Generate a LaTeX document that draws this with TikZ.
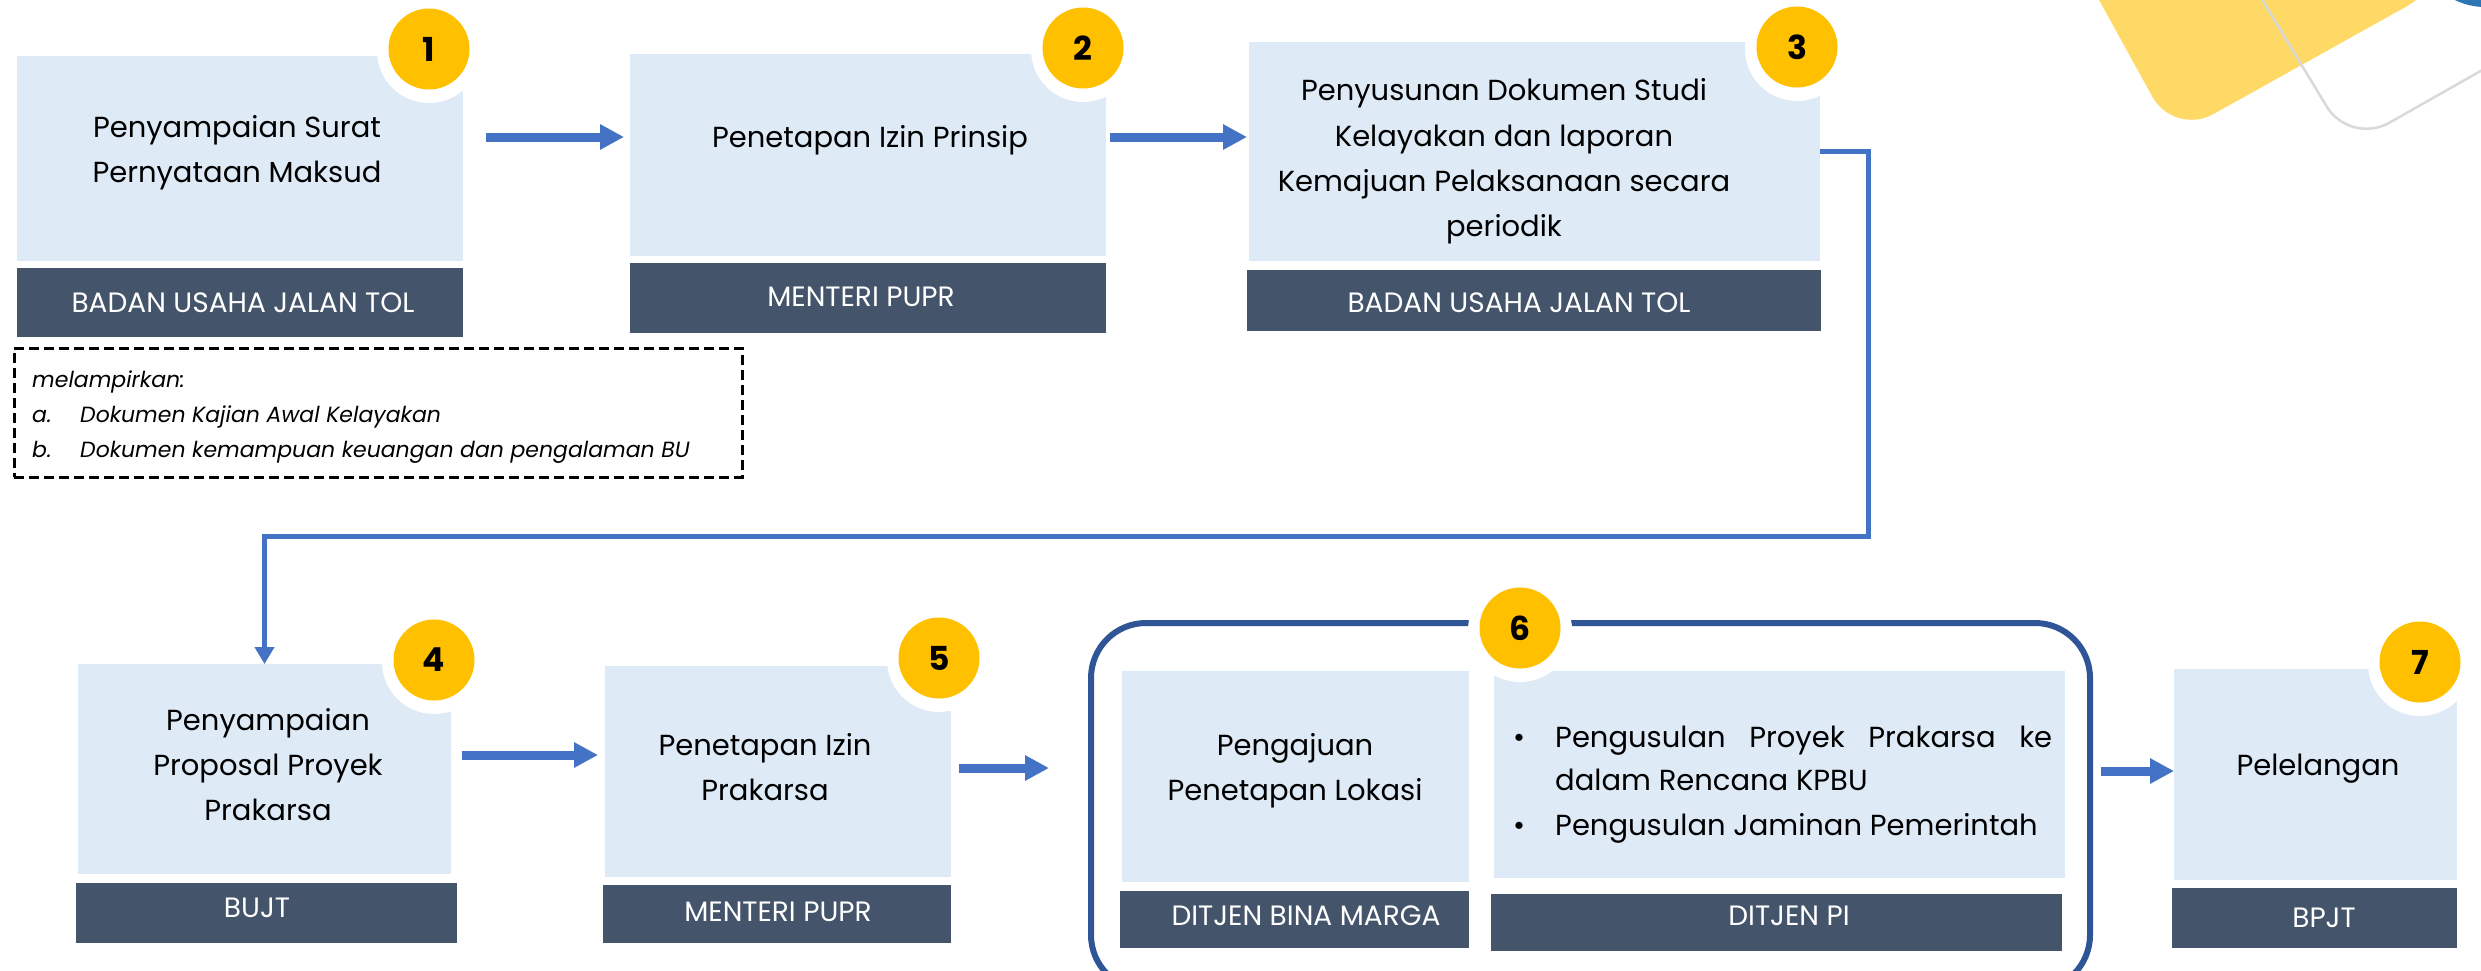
\documentclass[tikz,border=0pt]{standalone}
\usepackage{fontspec}
\setmainfont{Poppins}
\usetikzlibrary{arrows.meta,calc}
\definecolor{boxblue}{HTML}{DEEAF6}
\definecolor{labelgray}{HTML}{44546A}
\definecolor{numyellow}{HTML}{FFC000}
\definecolor{arrowblue}{HTML}{4472C4}
\definecolor{groupblue}{HTML}{2F5597}
\definecolor{decoyellow}{HTML}{FFD966}
\definecolor{decogray}{HTML}{D9D9D9}
\definecolor{decoblue}{HTML}{2E75B6}
\newcommand\fBody{\fontsize{29}{35}\selectfont}
\newcommand\fRole{\fontsize{28}{33}\selectfont}
\newcommand\fNum{\fontsize{33}{39}\selectfont\bfseries}
\newcommand\fNote{\fontsize{22}{27}\selectfont\itshape}
\tikzset{
  stepbox/.style={fill=boxblue, inner sep=0pt, outer sep=0pt},
  rolebox/.style={fill=labelgray, inner sep=0pt, outer sep=0pt},
  roletext/.style={anchor=base, inner sep=0pt, text=white, font=\fRole},
  halo/.style={circle, fill=white, minimum size=104pt, inner sep=0pt},
  numbadge/.style={circle, fill=numyellow, minimum size=81pt, inner sep=0pt, font=\fNum},
  ln/.style={anchor=base, inner sep=0pt, font=\fBody},
  lnw/.style={anchor=base west, inner sep=0pt, font=\fBody},
  noteln/.style={anchor=base west, inner sep=0pt, font=\fNote},
  flowarrow/.style={draw=arrowblue, line width=9pt, -{Triangle[length=24pt,width=24pt]}},
  connector/.style={draw=arrowblue, line width=5pt, -{Triangle[length=17pt,width=19pt]}},
  groupframe/.style={draw=groupblue, line width=6pt, rounded corners=55pt, inner sep=0pt},
  notebox/.style={draw=black, line width=3pt, dash pattern=on 10pt off 5pt, inner sep=0pt},
}
\begin{document}
\begin{tikzpicture}[x=1pt,y=-1pt]
\useasboundingbox (0,0) rectangle (2481,970);
\fill[white] (0,0) rectangle (2481,970);
% decoration
\begin{scope}
\clip (0,0) rectangle (2481,970);
\fill[decoyellow, rounded corners=45pt] (2077,-40) -- (2174,136) -- (2445,-15) -- cycle;
\draw[decogray, line width=2.5pt, rounded corners=45pt] (2238,-40) -- (2350,145) -- (2560,26);
\fill[decoblue] (2485,-61) circle[radius=68pt];
\end{scope}
% group frame for step 6
\node[groupframe, minimum width=999pt, minimum height=367pt] (g6) at (1590.5,806.5) {};
% step boxes
\node[stepbox, minimum width=446pt, minimum height=205pt] (b1) at (240,158.5) {};
\node[rolebox, minimum width=446pt, minimum height=69pt] (l1) at (240,302.5) {};
\node[stepbox, minimum width=476pt, minimum height=202pt] (b2) at (868,155) {};
\node[rolebox, minimum width=476pt, minimum height=70pt] (l2) at (868,298) {};
\node[stepbox, minimum width=571pt, minimum height=219pt] (b3) at (1534.5,151.5) {};
\node[rolebox, minimum width=574pt, minimum height=61pt] (l3) at (1534,300.5) {};
\node[stepbox, minimum width=373pt, minimum height=210pt] (b4) at (264.5,769) {};
\node[rolebox, minimum width=381pt, minimum height=60pt] (l4) at (266.5,913) {};
\node[stepbox, minimum width=346pt, minimum height=211pt] (b5) at (778,771.5) {};
\node[rolebox, minimum width=348pt, minimum height=58pt] (l5) at (777,914) {};
\node[stepbox, minimum width=347pt, minimum height=211pt] (b6a) at (1295.5,776.5) {};
\node[rolebox, minimum width=349pt, minimum height=57pt] (l6a) at (1294.5,919.5) {};
\node[stepbox, minimum width=571pt, minimum height=207pt] (b6b) at (1779.5,774.5) {};
\node[rolebox, minimum width=571pt, minimum height=57pt] (l6b) at (1776.5,922.5) {};
\node[stepbox, minimum width=283pt, minimum height=211pt] (b7) at (2315.5,774.5) {};
\node[rolebox, minimum width=285pt, minimum height=60pt] (l7) at (2314.5,918) {};
% note box
\node[notebox, minimum width=728pt, minimum height=129pt] (note) at (378,412.5) {};
% badges
\node[halo] (h1) at (429,51) {};
\node[numbadge] (n1) at (429,49) {1};
\node[halo] (h2) at (1083,50) {};
\node[numbadge] (n2) at (1083,48) {2};
\node[halo] (h3) at (1797,49) {};
\node[numbadge] (n3) at (1797,47) {3};
\node[halo] (h4) at (434,662) {};
\node[numbadge] (n4) at (434,660) {4};
\node[halo] (h5) at (939,660) {};
\node[numbadge] (n5) at (939,658) {5};
\node[halo] (h6) at (1520,630) {};
\node[numbadge] (n6) at (1520,628) {6};
\node[halo] (h7) at (2420,664) {};
\node[numbadge] (n7) at (2420,662) {7};
% step texts
\node[ln] (t1a) at (237,137) {Penyampaian Surat};
\node[ln] (t1b) at (237,182) {Pernyataan Maksud};
\node[ln] (t2a) at (870,147) {Penetapan Izin Prinsip};
\node[ln] (t3a) at (1504,100) {Penyusunan Dokumen Studi};
\node[ln] (t3b) at (1504,146) {Kelayakan dan laporan};
\node[ln] (t3c) at (1504,191) {Kemajuan Pelaksanaan secara};
\node[ln] (t3d) at (1504,236) {periodik};
\node[ln] (t4a) at (268,730) {Penyampaian};
\node[ln] (t4b) at (268,775) {Proposal Proyek};
\node[ln] (t4c) at (268,820) {Prakarsa};
\node[ln] (t5a) at (765,755) {Penetapan Izin};
\node[ln] (t5b) at (765,800) {Prakarsa};
\node[ln] (t6a) at (1295,755) {Pengajuan};
\node[ln] (t6b) at (1295,800) {Penetapan Lokasi};
\node[ln] (bu1) at (1519,747) {•};
\node[lnw] (t6c) at (1555,747) {\makebox[497pt][s]{Pengusulan Proyek Prakarsa ke}};
\node[lnw] (t6d) at (1555,790) {dalam Rencana KPBU};
\node[ln] (bu2) at (1519,835) {•};
\node[lnw] (t6e) at (1555,835) {Pengusulan Jaminan Pemerintah};
\node[ln] (t7a) at (2318,775) {Pelelangan};
% role texts
\node[roletext] (r1) at (243,312) {BADAN USAHA JALAN TOL};
\node[roletext] (r2) at (861,306) {MENTERI PUPR};
\node[roletext] (r3) at (1519,312) {BADAN USAHA JALAN TOL};
\node[roletext] (r4) at (257,917) {BUJT};
\node[roletext] (r5) at (778,921) {MENTERI PUPR};
\node[roletext] (r6a) at (1306,925) {DITJEN BINA MARGA};
\node[roletext] (r6b) at (1789,925) {DITJEN PI};
\node[roletext] (r7) at (2324,927) {BPJT};
% note texts
\node[noteln] (m0) at (32,387) {melampirkan:};
\node[noteln] (m1) at (32,422) {a.};
\node[noteln] (m1t) at (80,422) {Dokumen Kajian Awal Kelayakan};
\node[noteln] (m2) at (32,457) {b.};
\node[noteln] (m2t) at (80,457) {Dokumen kemampuan keuangan dan pengalaman BU};
% arrows
\draw[flowarrow] ([xshift=23pt,yshift=21.5pt]b1.east) -- ([xshift=-6pt,yshift=18pt]b2.west);
\draw[flowarrow] ([xshift=4pt,yshift=18pt]b2.east) -- ([xshift=-2pt,yshift=14.5pt]b3.west);
\draw[flowarrow] ([xshift=11pt,yshift=14pt]b4.east) -- ([xshift=-7pt,yshift=16.5pt]b5.west);
\draw[flowarrow] ([xshift=8pt,yshift=3.5pt]b5.east) -- ([xshift=-39pt,yshift=38.5pt]g6.west);
\draw[flowarrow] ([xshift=8pt,yshift=35.5pt]g6.east) -- ([yshift=3.5pt]b7.west);
\coordinate (k1) at (1868,536);
\draw[connector] (b3.east) -| (k1) -| (b4.north);
\end{tikzpicture}
\end{document}
